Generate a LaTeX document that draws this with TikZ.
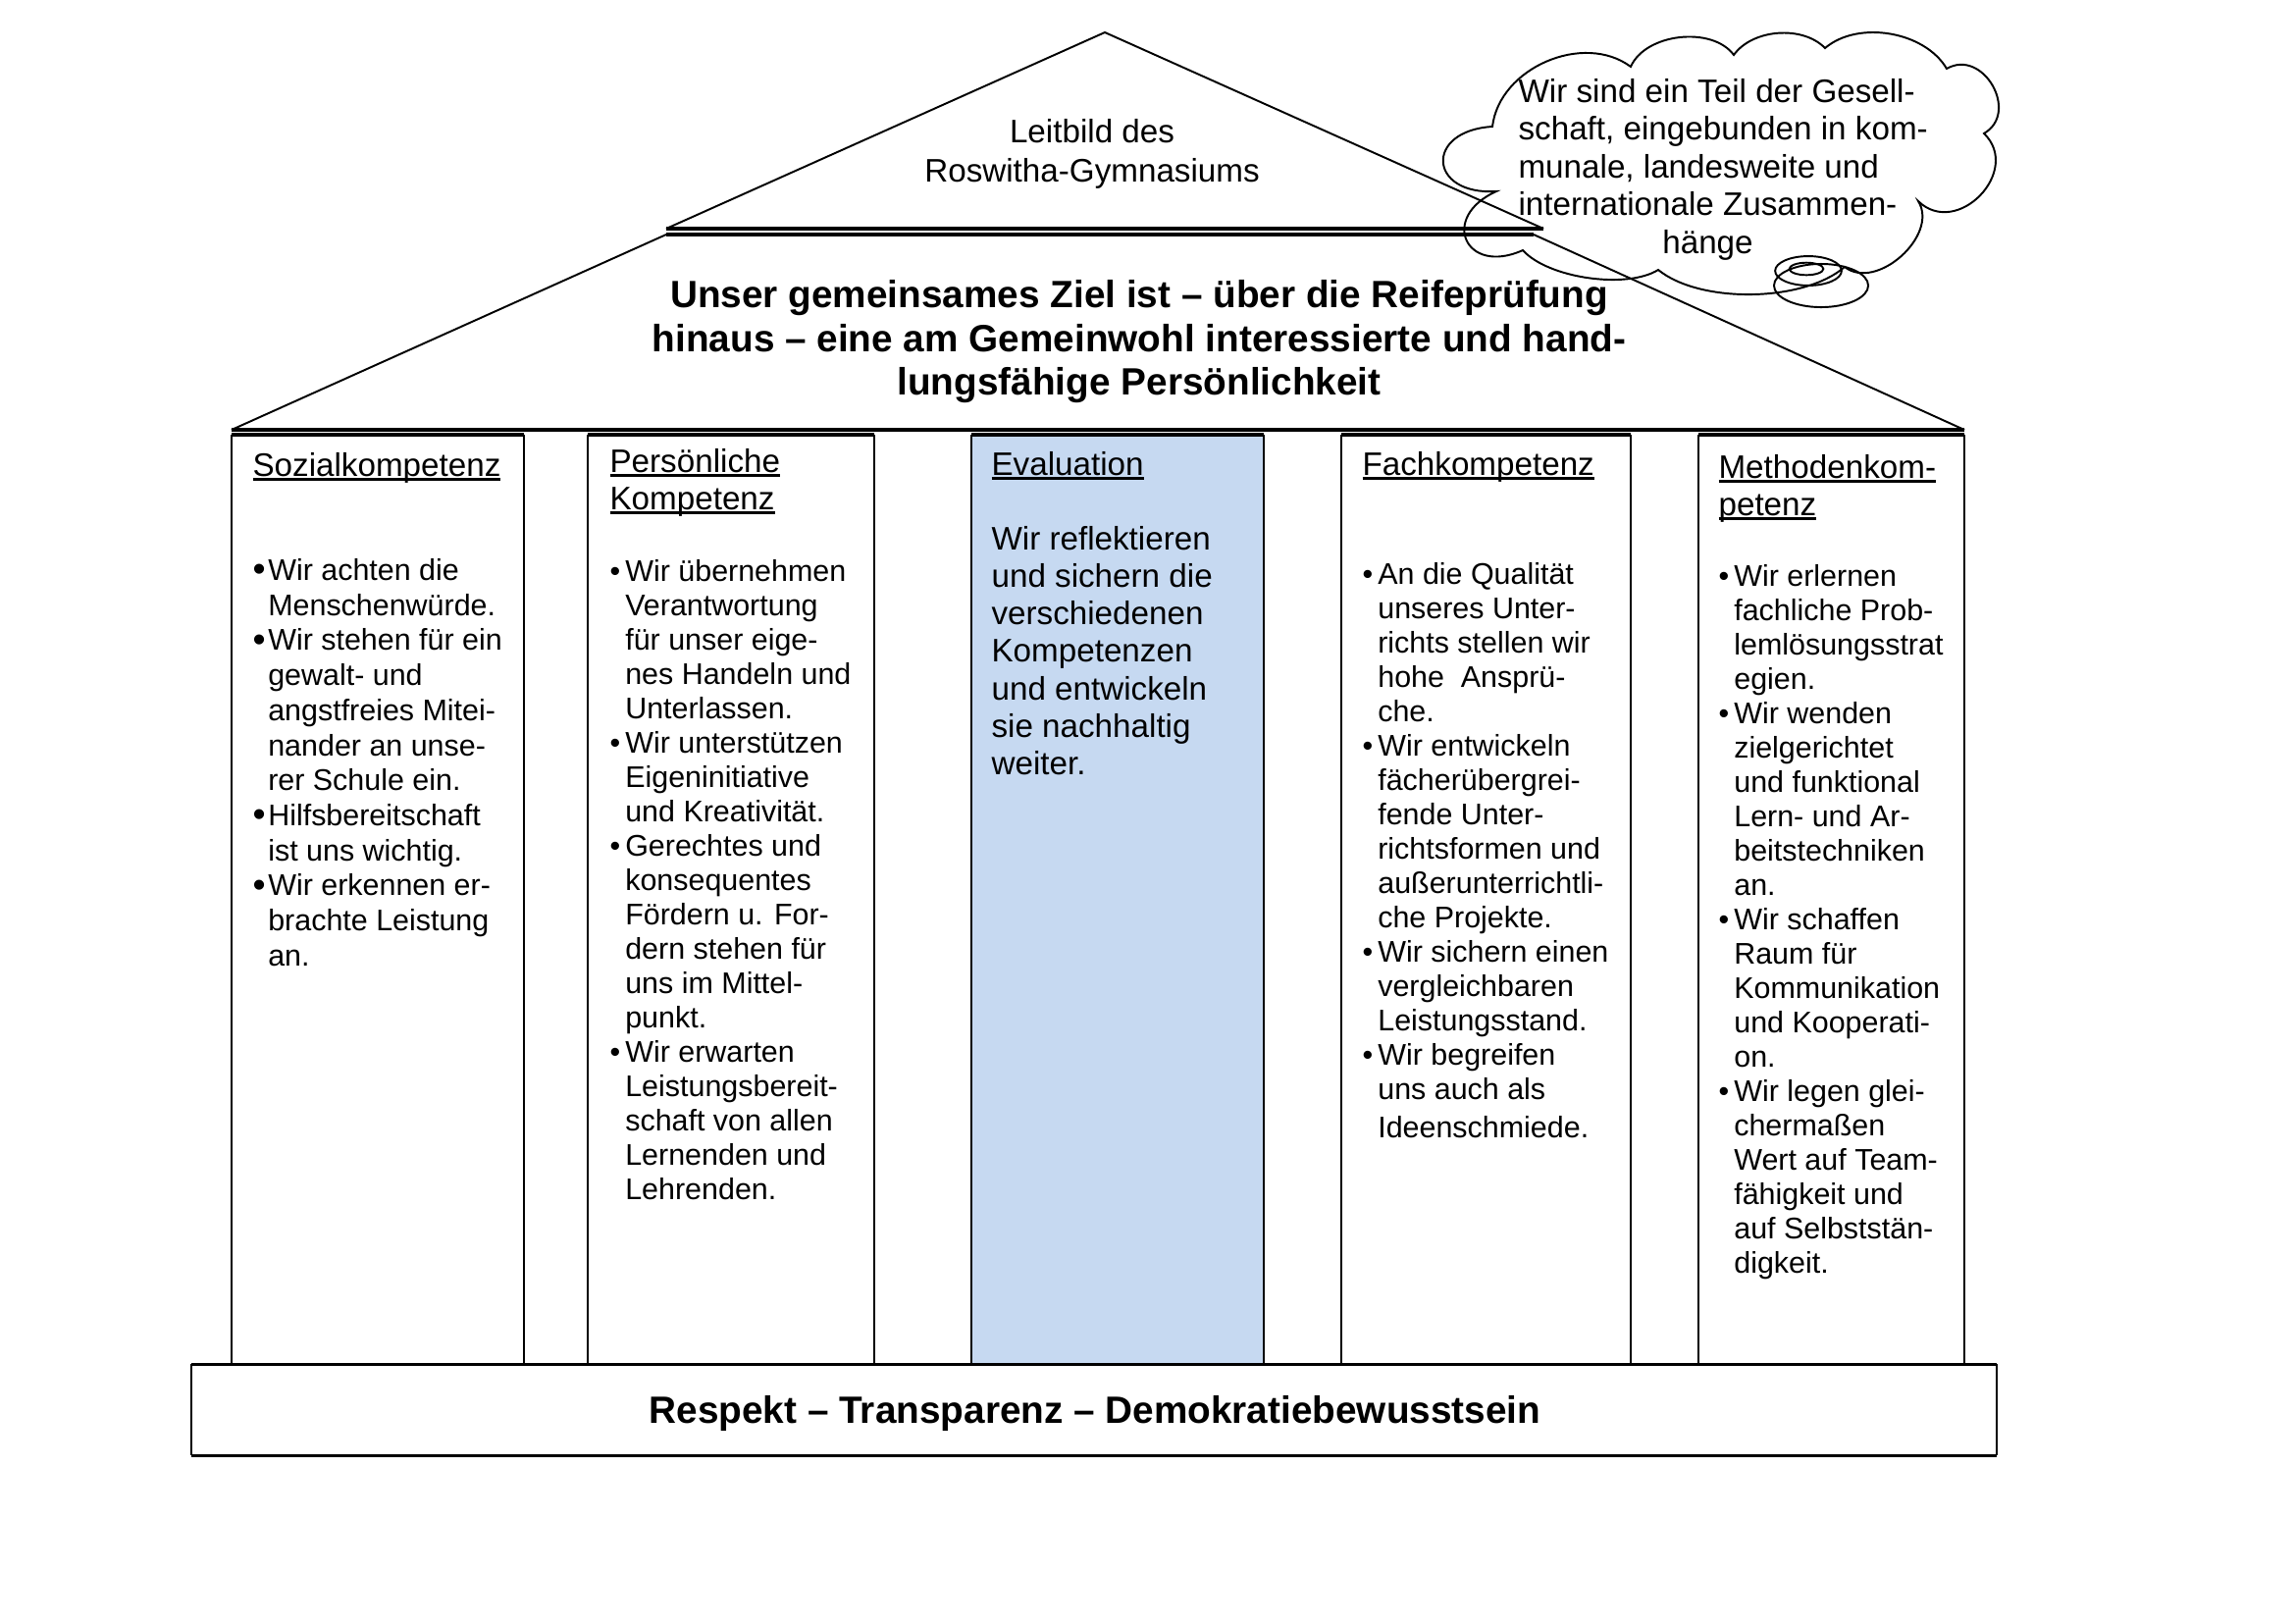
\documentclass[tikz,border=0pt]{standalone}
\usepackage{fontspec}
\setmainfont{Liberation Sans}
\definecolor{evalBg}{HTML}{C6D9F1}
\colorlet{houseLine}{black}
\newcommand{\bul}{\makebox[2mm][l]{\textbullet}}
\newcommand{\bigbul}{\makebox[2mm][l]{\raisebox{-0.04em}{\fontsize{13.5}{13.5}\selectfont\textbullet}}}
\newcommand{\ind}{\hspace*{2mm}}
% word-like underline, close to the baseline
\newcommand{\unter}[1]{\setbox0\hbox{#1}\rlap{\rule[-0.13em]{\wd0}{0.07em}}\box0}
% one pillar: left x, right x, fill colour
\newcommand{\pillar}[3]{
  \fill[#3] (#1,443) rectangle (#2,1390);
  \draw[houseLine, thinline] (#1,1390) -- (#1,443) (#2,443) -- (#2,1390);
  \draw[houseLine, thickline] (#1,443) -- (#2,443);
}

\begin{document}
\begin{tikzpicture}[x=0.127mm, y=-0.127mm,
  thinline/.style={line width=0.7pt},
  thickline/.style={line width=1.1pt},
  puff/.style 2 args={bend left=#1, looseness=#2},
  head/.style={anchor=north west, inner sep=0pt, align=left, font=\fontsize{12}{13.8}\selectfont},
  body/.style={anchor=north west, inner sep=0pt, align=left, font=\fontsize{11}{12.65}\selectfont}]

   \useasboundingbox (0,0) rectangle (2339,1654);

   % roof
   \draw[thinline] (679,233) -- (1126,33) -- (1573,233);
   \draw[thickline] (679,233) -- (1573,233);
   \draw[thinline] (236,438) -- (679,239);
   \draw[thinline] (1563,239) -- (2002,438);
   \draw[thickline] (679,239) -- (1563,239);
   \draw[thickline] (236,438) -- (2002,438);

   \node (leitbild) [anchor=north, inner sep=0pt, align=center, font=\fontsize{12}{14.5}\selectfont] at (1113,117) {\strut Leitbild des\\Roswitha-Gymnasiums};

   \node (ziel) [anchor=north, inner sep=0pt, align=center, font=\bfseries\fontsize{14}{16.1}\selectfont] at (1161,282)
     {\strut Unser gemeinsames Ziel ist – über die Reifeprüfung\\hinaus – eine am Gemeinwohl interessierte und hand-\\lungsfähige Persönlichkeit};

   % pillars
   \pillar{236}{534}{white}
   \pillar{599}{891}{white}
   \pillar{990}{1288}{evalBg}
   \pillar{1367}{1662}{white}
   \pillar{1731}{2002}{white}

   \node (sozialhead) [head] at (257,458) {\strut\unter{Sozialkompetenz}};
   \node (sozial) [body, font=\fontsize{11}{12.9}\selectfont] at (257,566) {\strut\bigbul Wir achten die\\
     \ind Menschenwürde.\\
     \bigbul Wir stehen für ein\\
     \ind gewalt- und\\
     \ind angstfreies Mitei-\\
     \ind nander an unse-\\
     \ind rer Schule ein.\\
     \bigbul Hilfsbereitschaft\\
     \ind ist uns wichtig.\\
     \bigbul Wir erkennen er-\\
     \ind brachte Leistung\\
     \ind an.};

   \node (pershead) [head] at (621,454) {\strut\unter{Persönliche}\\\unter{Kompetenz}};
   \node (pers) [body] at (621,567) {\strut\bul Wir übernehmen\\
     \ind Verantwortung\\
     \ind für unser eige-\\
     \ind nes Handeln und\\
     \ind Unterlassen.\\
     \bul Wir unterstützen\\
     \ind Eigeninitiative\\
     \ind und Kreativität.\\
     \bul Gerechtes und\\
     \ind konsequentes\\
     \ind Fördern u. For-\\
     \ind dern stehen für\\
     \ind uns im Mittel-\\
     \ind punkt.\\
     \bul Wir erwarten\\
     \ind Leistungsbereit-\\
     \ind schaft von allen\\
     \ind Lernenden und\\
     \ind Lehrenden.};

   \node (evalhead) [head] at (1010,457) {\strut\unter{Evaluation}};
   \node (eval) [head] at (1010,533) {\strut Wir reflektieren\\
     und sichern die\\
     verschiedenen\\
     Kompetenzen\\
     und entwickeln\\
     sie nachhaltig\\
     weiter.};

   \node (fachhead) [head] at (1388,457) {\strut\unter{Fachkompetenz}};
   \node (fach) [body] at (1388,570) {\strut\bul An die Qualität\\
     \ind unseres Unter-\\
     \ind richts stellen wir\\
     \ind hohe\ \ Ansprü-\\
     \ind che.\\
     \bul Wir entwickeln\\
     \ind fächerübergrei-\\
     \ind fende Unter-\\
     \ind richtsformen und\\
     \ind außerunterrichtli-\\
     \ind che Projekte.\\
     \bul Wir sichern einen\\
     \ind vergleichbaren\\
     \ind Leistungsstand.\\
     \bul Wir begreifen\\
     \ind uns auch als\\[1.5pt]
     \ind Ideenschmiede.};

   \node (methhead) [head] at (1751,460) {\strut\unter{Methodenkom-}\\\unter{petenz}};
   \node (meth) [body] at (1751,572) {\strut\bul Wir erlernen\\
     \ind fachliche Prob-\\
     \ind lemlösungsstrat\\
     \ind egien.\\
     \bul Wir wenden\\
     \ind zielgerichtet\\
     \ind und funktional\\
     \ind Lern- und Ar-\\
     \ind beitstechniken\\
     \ind an.\\
     \bul Wir schaffen\\
     \ind Raum für\\
     \ind Kommunikation\\
     \ind und Kooperati-\\
     \ind on.\\
     \bul Wir legen glei-\\
     \ind chermaßen\\
     \ind Wert auf Team-\\
     \ind fähigkeit und\\
     \ind auf Selbststän-\\
     \ind digkeit.};

   % base
   \fill[white] (195,1390) rectangle (2035,1483);
   \draw[thinline] (195,1390) -- (195,1483) (2035,1390) -- (2035,1483);
   \draw[thickline] (195,1390) -- (2035,1390) (195,1483) -- (2035,1483);
   \node (basis) [anchor=base, inner sep=0pt, font=\bfseries\fontsize{14}{16.1}\selectfont] at (1116,1450) {Respekt – Transparenz – Demokratiebewusstsein};

   % cloud
   \draw[thinline] (1521,129) to[puff={60}{1}] (1662,68) to[puff={60}{0.9}] (1767,56)
     to[puff={50}{0.9}] (1860,49) to[puff={50}{0.9}] (1984,70) to[puff={90}{1.43}] (2022,136)
     to[puff={90}{1.46}] (1955,205) to[puff={80}{1.04}] (1880,272) to[puff={40}{0.74}] (1690,275)
     to[puff={40}{0.7}] (1552,255) to[puff={90}{2.5}] (1525,195) to[puff={90}{2.7}] cycle;
   \draw[thinline] (1841,274) ellipse [x radius=2.2mm, y radius=0.8mm];
   \draw[thinline] (1843,276) ellipse [x radius=4.3mm, y radius=1.9mm];
   \draw[thinline] (1856,291) ellipse [x radius=6.1mm, y radius=2.8mm];
   \node (wolketext) [head, font=\fontsize{12}{13.9}\selectfont] at (1547,77) {\strut Wir sind ein Teil der Gesell-\\
     schaft, eingebunden in kom-\\
     munale, landesweite und\\
     internationale Zusammen-\\
     \makebox[49mm]{hänge}};

\end{tikzpicture}
\end{document}
